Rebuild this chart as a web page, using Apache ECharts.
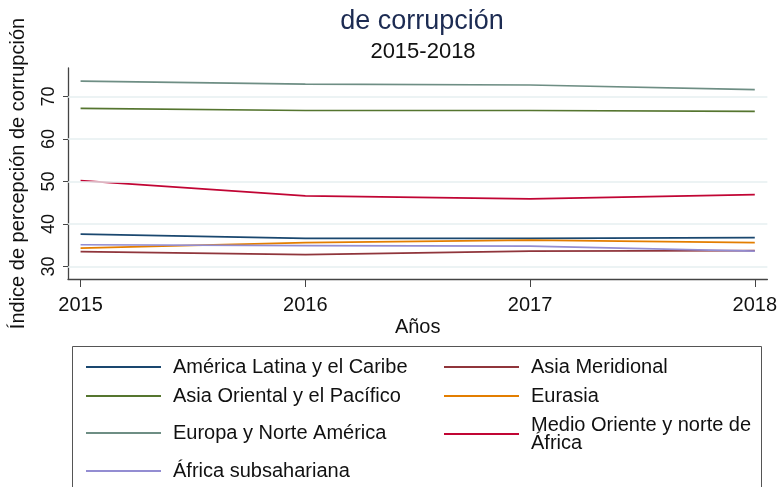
<!DOCTYPE html>
<html><head><meta charset="utf-8">
<script src="https://cdn.jsdelivr.net/npm/echarts@6/dist/echarts.min.js"></script>
<style>html,body{margin:0;padding:0;background:#fff;}#c{width:780px;height:487px;}</style>
</head><body><div id="c"></div>
<script>
const years = [2015, 2016, 2017, 2018];
const yTicks = [30, 40, 50, 60, 70];
const seriesNames = ["América Latina y el Caribe", "Asia Meridional", "Asia Oriental y el Pacífico", "Eurasia", "Europa y Norte América", "Medio Oriente y norte de África", "África subsahariana"];
const latam = [37.6, 36.6, 36.6, 36.8];
const asiaMeridional = [33.5, 32.8, 33.6, 33.7];
const asiaOriental = [67.2, 66.7, 66.7, 66.5];
const eurasia = [34.3, 35.6, 36.2, 35.6];
const europa = [73.6, 72.9, 72.7, 71.6];
const medioOriente = [50.2, 46.6, 45.9, 46.9];
const africaSub = [35.1, 34.9, 34.8, 33.6];
const colors = ["#1a476f", "#90353b", "#55752f", "#e37e00", "#6e8e84", "#c10534", "#938dd2"];
const allValues = [latam, asiaMeridional, asiaOriental, eurasia, europa, medioOriente, africaSub];

const FONT = "Liberation Sans, Arial, sans-serif";
const chart = echarts.init(document.getElementById('c'));

const series = seriesNames.map((n, i) => ({
  name: n, type: 'line', symbol: 'none', z: 3,
  data: years.map((y, k) => [y, allValues[i][k]]),
  lineStyle: { width: 1.7, color: colors[i] }, itemStyle: { color: colors[i] }
}));
series.unshift({
  name: '_grid', type: 'line', data: [], z: 1, silent: true,
  markLine: { symbol: 'none', silent: true, label: { show: false },
    lineStyle: { color: '#e6eff1', type: 'solid', width: 1.5 },
    data: yTicks.map(v => ({ yAxis: v })) }
});

// legend positions: [left, top] of each entry
const legPos = [[81, 352], [439, 352], [81, 381], [439, 381], [81, 418], [439, 410], [81, 456]];
const legends = seriesNames.map((n, i) => ({
  data: [n], left: legPos[i][0], top: legPos[i][1], itemWidth: 75, itemHeight: 20,
  selectedMode: false, icon: 'path://M0,0 L75,0 L75,2 L0,2 Z',
  itemStyle: { color: colors[i] },
  formatter: n === "Medio Oriente y norte de África" ? "Medio Oriente y norte de\nÁfrica" : undefined,
  textStyle: { fontFamily: FONT, fontSize: 20, color: '#111', padding: [0, 0, 0, 7], lineHeight: 18 }
}));

chart.setOption({
  animation: false,
  backgroundColor: '#fff',
  title: [
    { text: 'de corrupción', left: 417, textAlign: 'center', top: 3,
      textStyle: { fontFamily: FONT, fontSize: 27, fontWeight: 'normal', color: '#1c2b52' } },
    { text: '2015-2018', left: 418, textAlign: 'center', top: 36,
      textStyle: { fontFamily: FONT, fontSize: 22, fontWeight: 'normal', color: '#111' } }
  ],
  grid: { left: 66, right: 11, top: 68, bottom: 208 },
  xAxis: {
    type: 'value', min: 2014.944, max: 2018.056,
    name: 'Años', nameLocation: 'middle', nameGap: 38,
    nameTextStyle: { fontFamily: FONT, fontSize: 20, color: '#111' },
    axisLine: { show: true, lineStyle: { color: '#444', width: 1.3 } },
    axisTick: { show: true, length: 8, customValues: years, lineStyle: { color: '#444' } },
    axisLabel: { customValues: years, formatter: v => String(v), fontFamily: FONT, fontSize: 20, color: '#111', margin: 16 },
    splitLine: { show: false }
  },
  yAxis: {
    type: 'value', min: 27.04, max: 76.7,
    name: 'Índice de percepción de corrupción', nameLocation: 'middle', nameGap: 40,
    nameTextStyle: { fontFamily: FONT, fontSize: 20, color: '#111' },
    axisLine: { show: true, lineStyle: { color: '#444', width: 1.3 } },
    axisTick: { show: true, length: 5, customValues: yTicks, lineStyle: { color: '#444' } },
    axisLabel: { customValues: yTicks, rotate: 90, fontFamily: FONT, fontSize: 18, color: '#111', margin: 10 },
    splitLine: { show: false }
  },
  legend: legends,
  graphic: [{ type: 'rect', shape: { x: 72.5, y: 346.5, width: 689, height: 160 },
    style: { fill: 'none', stroke: '#555', lineWidth: 1 }, silent: true }],
  series: series
});
</script></body></html>
